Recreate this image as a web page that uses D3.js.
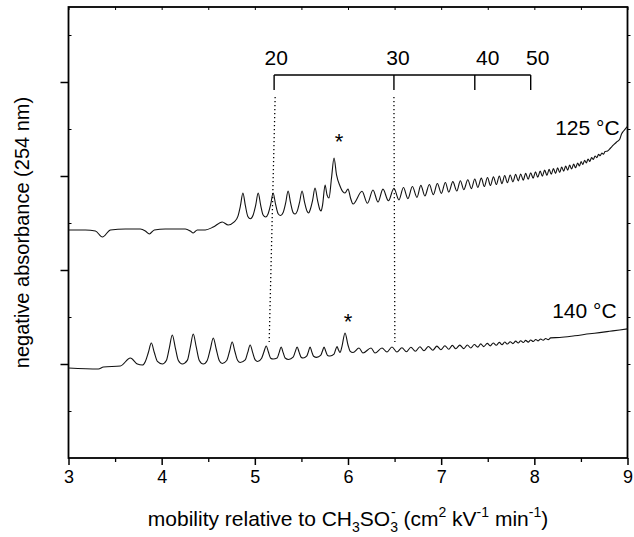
<!DOCTYPE html>
<html>
<head>
<meta charset="utf-8">
<script src="https://cdn.jsdelivr.net/npm/d3@7"></script>
<style>
  body { margin: 0; background: #fff; }
  text { font-family: "Liberation Sans", Arial, sans-serif; fill: #000; }
</style>
</head>
<body>
<div id="chart"></div>
<script>
/**
 * Electropherogram: two traces (125 °C and 140 °C)
 */

// x: mobility relative to CH3SO3-, y: negative absorbance (a.u.)
var trace125 = [
  [3.000,2.426],[3.182,2.426],[3.289,2.415],[3.364,2.351],[3.450,2.426],[3.611,2.436],[3.771,2.436],[3.825,2.415],
  [3.868,2.383],[3.921,2.426],[4.039,2.436],[4.254,2.436],[4.307,2.415],[4.339,2.394],[4.382,2.426],[4.468,2.426],
  [4.554,2.457],[4.650,2.511],[4.714,2.479],[4.779,2.511],
  [4.818,2.570],[4.845,2.681],[4.872,2.819],[4.899,2.681],[4.925,2.570],[4.953,2.545],
  [4.982,2.585],[5.009,2.688],[5.036,2.819],[5.063,2.688],[5.089,2.585],[5.116,2.564],
  [5.143,2.599],[5.170,2.697],[5.196,2.819],[5.223,2.697],[5.250,2.599],[5.277,2.580],
  [5.304,2.611],[5.331,2.713],[5.357,2.840],[5.384,2.713],[5.411,2.611],[5.432,2.596],
  [5.454,2.624],[5.480,2.720],[5.507,2.840],[5.534,2.720],[5.561,2.624],[5.577,2.606],
  [5.593,2.638],[5.620,2.741],[5.646,2.872],[5.673,2.741],[5.700,2.638],[5.711,2.628],
  [5.727,2.691],[5.754,2.904],[5.775,2.798],[5.796,2.766],
  [5.823,2.979],[5.850,3.191],[5.877,3.011],[5.914,2.894],[5.947,2.830],[5.968,2.819],[6.000,2.862],[6.027,2.766],
  [6.054,2.702],
  [6.150,2.837],[6.209,2.710],[6.268,2.851],[6.322,2.723],[6.375,2.860],[6.434,2.736],[6.493,2.870],[6.547,2.746],
  [6.595,2.877],[6.643,2.759],[6.691,2.888],[6.740,2.773],[6.782,2.900],[6.825,2.787],[6.873,2.910],[6.916,2.802],
  [6.959,2.920],[7.002,2.815],[7.045,2.931],[7.082,2.829],[7.125,2.940],[7.168,2.841],[7.206,2.950],[7.243,2.854],
  [7.286,2.960],[7.324,2.866],[7.361,2.968],[7.393,2.878],[7.431,2.977],[7.463,2.888],[7.497,2.984],[7.529,2.899],
  [7.561,2.991],[7.592,2.909],[7.624,3.000],[7.652,2.919],[7.682,3.005],[7.711,2.929],[7.741,3.011],[7.770,2.938],
  [7.800,3.017],[7.827,2.948],[7.854,3.022],[7.881,2.956],[7.907,3.028],[7.934,2.966],[7.961,3.034],[7.987,2.977],
  [8.012,3.044],[8.037,2.987],[8.063,3.052],[8.086,2.997],[8.111,3.062],[8.135,3.007],[8.159,3.070],[8.182,3.018],
  [8.205,3.079],[8.228,3.028],[8.250,3.086],[8.272,3.037],[8.293,3.095],[8.315,3.050],[8.336,3.105],[8.358,3.062],
  [8.379,3.116],[8.400,3.074],[8.422,3.126],[8.443,3.087],[8.465,3.139],[8.484,3.107],[8.502,3.153],[8.520,3.122],
  [8.540,3.167],[8.558,3.138],[8.577,3.181],[8.595,3.155],[8.615,3.196],[8.633,3.176],[8.652,3.213],[8.670,3.196],
  [8.690,3.230],[8.707,3.216],[8.725,3.245],[8.743,3.231],[8.759,3.260],[8.786,3.266],[8.818,3.298],[8.850,3.330],
  [8.883,3.362],[8.915,3.388],[8.936,3.447],[8.958,3.479],[8.979,3.505],[9.000,3.527]
];

var trace140 = [
  [3.000,0.957],[3.321,0.947],[3.375,0.968],[3.557,0.979],[3.664,1.064],[3.739,1.000],[3.793,0.989],
  [3.825,1.027],[3.857,1.122],[3.889,1.223],[3.921,1.122],[3.954,1.027],[4.007,1.000],
  [4.050,1.037],[4.082,1.170],[4.114,1.309],[4.147,1.170],[4.179,1.037],[4.222,1.000],
  [4.275,1.038],[4.307,1.176],[4.339,1.319],[4.372,1.176],[4.404,1.038],[4.447,1.000],
  [4.489,1.038],[4.522,1.157],[4.554,1.277],[4.586,1.157],[4.618,1.038],[4.650,1.005],
  [4.698,1.037],[4.728,1.133],[4.757,1.234],[4.786,1.133],[4.816,1.037],[4.843,1.016],
  [4.897,1.043],[4.923,1.121],[4.950,1.202],[4.977,1.121],[5.004,1.043],[5.030,1.027],
  [5.073,1.062],[5.098,1.130],[5.122,1.191],[5.145,1.130],[5.170,1.062],[5.197,1.053],
  [5.239,1.064],[5.261,1.121],[5.282,1.181],[5.304,1.121],[5.325,1.064],[5.363,1.048],
  [5.411,1.072],[5.432,1.126],[5.454,1.181],[5.475,1.126],[5.497,1.072],[5.518,1.064],
  [5.556,1.083],[5.575,1.131],[5.593,1.181],[5.611,1.131],[5.631,1.083],[5.663,1.071],
  [5.706,1.091],[5.725,1.135],[5.743,1.181],[5.761,1.135],[5.781,1.091],[5.807,1.085],
  [5.850,1.106],[5.866,1.149],[5.882,1.186],[5.898,1.149],[5.914,1.122],
  [5.936,1.191],[5.968,1.330],[6.000,1.202],[6.022,1.138],[6.054,1.122],
  [6.118,1.170],[6.161,1.117],[6.247,1.170],[6.290,1.117],[6.365,1.170],[6.418,1.128],
  [6.472,1.181],[6.525,1.128],
  [6.579,1.173],[6.627,1.130],[6.675,1.178],[6.723,1.135],[6.772,1.183],[6.815,1.141],[6.863,1.186],[6.911,1.147],
  [6.954,1.190],[6.997,1.152],[7.040,1.194],[7.082,1.157],[7.120,1.198],[7.157,1.162],[7.200,1.201],[7.243,1.164],
  [7.281,1.202],[7.318,1.171],[7.356,1.207],[7.393,1.180],[7.425,1.214],[7.457,1.185],[7.495,1.219],[7.527,1.193],
  [7.559,1.224],[7.591,1.199],[7.624,1.230],[7.654,1.205],[7.682,1.234],[7.711,1.212],[7.741,1.237],[7.770,1.217],
  [7.800,1.243],[7.827,1.223],[7.854,1.247],[7.881,1.228],[7.907,1.251],[7.934,1.233],[7.961,1.255],[7.988,1.239],
  [8.015,1.261],[8.041,1.246],[8.068,1.266],[8.095,1.252],[8.122,1.271],[8.149,1.259],[8.175,1.278],[8.272,1.282],
  [8.433,1.300],[8.593,1.321],[8.700,1.334],[8.808,1.348],[8.915,1.362],[9.000,1.374]
];

// chain length scale on top (oligomer number vs mobility)
var chainLabels = ['20', '30', '40', '50'];
var chainMobility = [5.207, 6.493, 7.361, 7.961];
var chainLabelMobility = [5.229, 6.536, 7.500, 8.036];

// dotted guides: [mobility on 125 °C trace, mobility on 140 °C trace]
var guideTop = [5.218, 6.493];
var guideBottom = [5.154, 6.503];

// impurity marks (*)
var starMobility = [5.904, 6.000];
var starLevel = [3.287, 1.372];

// trace labels
var traceLabels = ['125 °C', '140 °C'];
var traceLabelMobility = [8.915, 8.883];
var traceLabelLevel = [3.436, 1.489];

var xTicks = [3, 4, 5, 6, 7, 8, 9];
var xMinor = [3.5, 4.5, 5.5, 6.5, 7.5, 8.5];
var yTicks = [1, 2, 3, 4];
var yMinor = [0.5, 1.5, 2.5, 3.5, 4.5];

/**
 * Vars
 */
var W = 634, H = 537,
    plotL = 68.5, plotR = 627.5, plotT = 7, plotB = 458;

var x = d3.scaleLinear().domain([3, 9]).range([plotL, plotR]);
var y = d3.scaleLinear().domain([0, 4.8]).range([plotB, plotB - 4.8 * 94]);

var svg = d3.select('#chart').append('svg')
  .attr('width', W)
  .attr('height', H);

function noDomain(g) { g.select('.domain').remove(); }

// bottom axis
svg.append('g')
  .attr('transform', 'translate(0,' + plotB + ')')
  .call(d3.axisBottom(x).tickValues(xTicks).tickSize(7).tickPadding(5).tickFormat(d3.format('d')))
  .call(noDomain)
  .call(function(g) {
    g.selectAll('line').attr('stroke', '#000').attr('stroke-width', 1.5);
    g.selectAll('text').attr('font-size', 18).attr('font-family', '"Liberation Sans", Arial, sans-serif');
  });
svg.append('g')
  .attr('transform', 'translate(0,' + plotB + ')')
  .call(d3.axisBottom(x).tickValues(xMinor).tickSize(4).tickFormat(''))
  .call(noDomain)
  .selectAll('line').attr('stroke', '#000').attr('stroke-width', 1.3);

// top axis (inner ticks)
svg.append('g')
  .attr('transform', 'translate(0,' + plotT + ')')
  .call(d3.axisBottom(x).tickValues(xTicks.concat(xMinor)).tickSize(3).tickFormat(''))
  .call(noDomain)
  .selectAll('line').attr('stroke', '#000').attr('stroke-width', 1);

// left axis
svg.append('g')
  .attr('transform', 'translate(' + plotL + ',0)')
  .call(d3.axisLeft(y).tickValues(yTicks).tickSize(8).tickFormat(''))
  .call(noDomain)
  .selectAll('line').attr('stroke', '#000').attr('stroke-width', 1.5);
svg.append('g')
  .attr('transform', 'translate(' + plotL + ',0)')
  .call(d3.axisRight(y).tickValues(yMinor).tickSize(3).tickFormat(''))
  .call(noDomain)
  .selectAll('line').attr('stroke', '#000').attr('stroke-width', 1);

// right axis (small outer ticks)
svg.append('g')
  .attr('transform', 'translate(' + plotR + ',0)')
  .call(d3.axisRight(y).tickValues(yTicks.concat(yMinor)).tickSize(3).tickFormat(''))
  .call(noDomain)
  .selectAll('line').attr('stroke', '#000').attr('stroke-width', 1);

// frame
svg.append('rect')
  .attr('x', plotL).attr('y', plotT)
  .attr('width', plotR - plotL).attr('height', plotB - plotT)
  .attr('fill', 'none')
  .attr('stroke', '#000')
  .attr('stroke-width', 1.8);

/**
 * Traces
 */
var line = d3.line()
  .x(function(d) { return x(d[0]); })
  .y(function(d) { return y(d[1]); })
  .curve(d3.curveMonotoneX);

svg.selectAll('.trace').data([trace125, trace140])
  .enter().append('path')
    .attr('class', 'trace')
    .attr('d', line)
    .attr('fill', 'none')
    .attr('stroke', '#111')
    .attr('stroke-width', 1.1);

/**
 * Chain length bracket
 */
var brY = y(4.074), brTick = y(3.915);
svg.append('line')
  .attr('x1', x(chainMobility[0])).attr('x2', x(chainMobility[chainMobility.length - 1]))
  .attr('y1', brY).attr('y2', brY)
  .attr('stroke', '#000').attr('stroke-width', 1.4);
svg.selectAll('.chain-tick').data(chainMobility)
  .enter().append('line')
    .attr('class', 'chain-tick')
    .attr('x1', function(d) { return x(d); }).attr('x2', function(d) { return x(d); })
    .attr('y1', brY).attr('y2', brTick)
    .attr('stroke', '#000').attr('stroke-width', 1.4);
svg.selectAll('.chain-label').data(chainLabels)
  .enter().append('text')
    .attr('class', 'chain-label')
    .attr('x', function(d, i) { return x(chainLabelMobility[i]); })
    .attr('y', y(4.181))
    .attr('text-anchor', 'middle')
    .attr('font-size', 21)
    .text(String);

// dotted guides
svg.selectAll('.guide').data(guideTop)
  .enter().append('line')
    .attr('class', 'guide')
    .attr('x1', function(d) { return x(d); })
    .attr('x2', function(d, i) { return x(guideBottom[i]); })
    .attr('y1', y(3.84)).attr('y2', y(1.234))
    .attr('stroke', '#000').attr('stroke-width', 1.3)
    .attr('stroke-dasharray', '1.3,2.7');

// stars
svg.selectAll('.star').data(starMobility)
  .enter().append('text')
    .attr('class', 'star')
    .attr('x', function(d) { return x(d); })
    .attr('y', function(d, i) { return y(starLevel[i]); })
    .attr('text-anchor', 'middle')
    .attr('font-size', 22)
    .text('*');

// trace labels
svg.selectAll('.trace-label').data(traceLabels)
  .enter().append('text')
    .attr('class', 'trace-label')
    .attr('x', function(d, i) { return x(traceLabelMobility[i]); })
    .attr('y', function(d, i) { return y(traceLabelLevel[i]); })
    .attr('text-anchor', 'end')
    .attr('font-size', 21)
    .text(String);

/**
 * Axis titles
 */
var xt = svg.append('text')
  .attr('x', (plotL + plotR) / 2)
  .attr('y', 526)
  .attr('text-anchor', 'middle')
  .attr('font-size', 21);
xt.append('tspan').text('mobility relative to CH');
xt.append('tspan').attr('font-size', 14).attr('dy', 6).text('3');
xt.append('tspan').attr('dy', -6).text('SO');
xt.append('tspan').attr('font-size', 14).attr('dy', 6).text('3');
xt.append('tspan').attr('font-size', 14).attr('dx', -7).attr('dy', -15).text('-');
xt.append('tspan').attr('dx', 2).attr('dy', 9).text(' (cm');
xt.append('tspan').attr('font-size', 14).attr('dy', -9).text('2');
xt.append('tspan').attr('dy', 9).text(' kV');
xt.append('tspan').attr('font-size', 14).attr('dy', -9).text('-1');
xt.append('tspan').attr('dy', 9).text(' min');
xt.append('tspan').attr('font-size', 14).attr('dy', -9).text('-1');
xt.append('tspan').attr('dy', 9).text(')');

svg.append('text')
  .attr('transform', 'translate(29,' + ((plotT + plotB) / 2) + ') rotate(-90)')
  .attr('text-anchor', 'middle')
  .attr('font-size', 20)
  .text('negative absorbance (254 nm)');
</script>
</body>
</html>
